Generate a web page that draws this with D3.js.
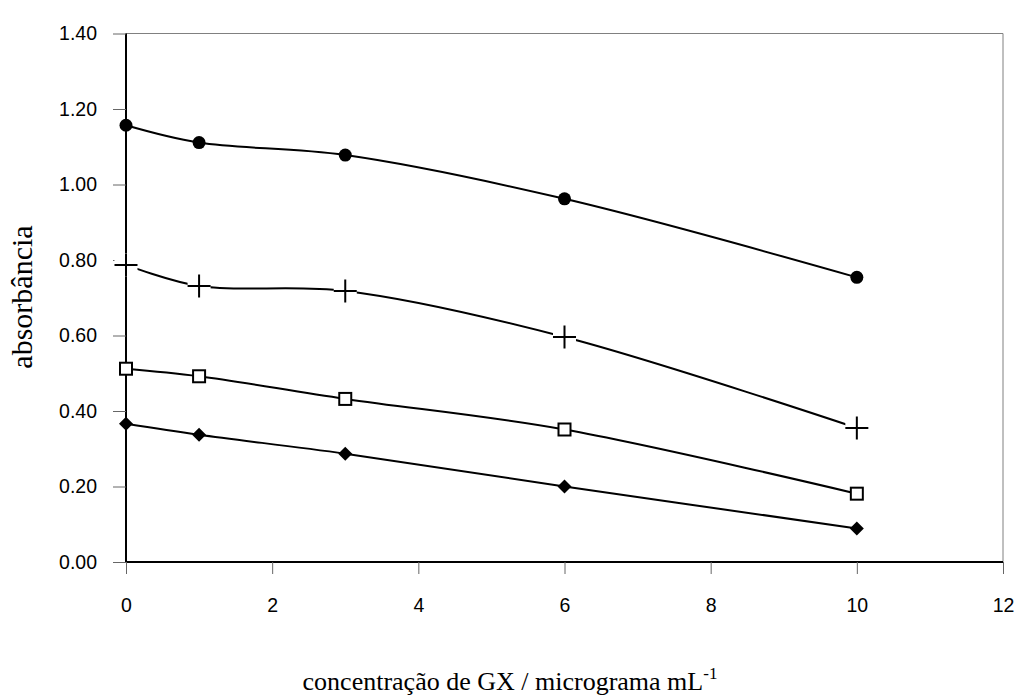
<!DOCTYPE html>
<html>
<head>
<meta charset="utf-8">
<script src="https://cdn.jsdelivr.net/npm/d3@7"></script>
<style>
  body { margin: 0; background: #fff; }
  .tick text { font-family: "Liberation Sans", Arial, sans-serif; font-size: 19.5px; fill: #000; }
  .axis-title { font-family: "Liberation Serif", "Times New Roman", serif; fill: #000; }
</style>
</head>
<body>
<div id="chart"></div>
<script>
// --- Data ---
const concentrations = [0, 1, 3, 6, 10];
const seriesCircle  = [1.157, 1.111, 1.078, 0.962, 0.754];
const seriesPlus    = [0.787, 0.731, 0.718, 0.596, 0.355];
const seriesSquare  = [0.512, 0.492, 0.432, 0.351, 0.181];
const seriesDiamond = [0.366, 0.337, 0.287, 0.200, 0.089];
const xTicks = [0, 2, 4, 6, 8, 10, 12];
const yTicks = [0, 0.2, 0.4, 0.6, 0.8, 1.0, 1.2, 1.4];

const width = 1016, height = 695;
const margin = { top: 33.5, right: 13, bottom: 133, left: 126 };

const svg = d3.select("#chart").append("svg")
    .attr("width", width)
    .attr("height", height);

const x = d3.scaleLinear().domain([0, 12]).range([margin.left, width - margin.right]);
const y = d3.scaleLinear().domain([0, 1.4]).range([height - margin.bottom, margin.top]);

// --- Plot frame (thin grey top/right) ---
svg.append("line")
    .attr("x1", x(0)).attr("x2", x(12))
    .attr("y1", y(1.4)).attr("y2", y(1.4))
    .attr("stroke", "#808080").attr("stroke-width", 1);
svg.append("line")
    .attr("x1", x(12)).attr("x2", x(12))
    .attr("y1", y(1.4)).attr("y2", y(0))
    .attr("stroke", "#808080").attr("stroke-width", 1);

// --- Axes ---
const xAxis = svg.append("g")
    .attr("transform", `translate(0,${y(0)})`)
    .call(d3.axisBottom(x).tickValues(xTicks).tickFormat(d3.format("d")).tickSize(12).tickPadding(24));
const yAxis = svg.append("g")
    .attr("transform", `translate(${x(0)},0)`)
    .call(d3.axisLeft(y).tickValues(yTicks).tickFormat(d3.format(".2f")).tickSize(13).tickPadding(16));

[xAxis, yAxis].forEach(g => {
    g.select(".domain").attr("stroke", "#000").attr("stroke-width", 2);
    g.selectAll(".tick line").attr("stroke", "#666").attr("stroke-width", 1);
});
xAxis.select(".domain").attr("d", `M${x(0)},0H${x(12)}`);
yAxis.select(".domain").attr("d", `M0,${y(0)}V${y(1.4)}`);

// --- Lines ---
const line = d3.line()
    .x((d, i) => x(concentrations[i]))
    .y(d => y(d))
    .curve(d3.curveCatmullRom.alpha(0.5));

const allSeries = [
    { values: seriesCircle, marker: "circle" },
    { values: seriesPlus, marker: "plus" },
    { values: seriesSquare, marker: "square" },
    { values: seriesDiamond, marker: "diamond" }
];

allSeries.forEach(s => {
    svg.append("path")
        .datum(s.values)
        .attr("fill", "none")
        .attr("stroke", "#000")
        .attr("stroke-width", 2)
        .attr("d", line);
});

// --- Markers ---
allSeries.forEach(s => {
    const g = svg.append("g");
    s.values.forEach((v, i) => {
        const cx = x(concentrations[i]), cy = y(v);
        if (s.marker === "circle") {
            g.append("circle").attr("cx", cx).attr("cy", cy).attr("r", 6.5).attr("fill", "#000");
        } else if (s.marker === "plus") {
            g.append("rect").attr("x", cx - 11.5).attr("y", cy - 11.5)
                .attr("width", 23).attr("height", 23).attr("fill", "#fff");
            g.append("path")
                .attr("d", `M${cx - 11.5},${cy}H${cx + 11.5}M${cx},${cy - 11.5}V${cy + 11.5}`)
                .attr("stroke", "#000").attr("stroke-width", 2);
        } else if (s.marker === "square") {
            g.append("rect").attr("x", cx - 6).attr("y", cy - 6)
                .attr("width", 12).attr("height", 12)
                .attr("fill", "#fff").attr("stroke", "#000").attr("stroke-width", 2);
        } else {
            g.append("path")
                .attr("d", `M${cx},${cy - 7}L${cx + 7},${cy}L${cx},${cy + 7}L${cx - 7},${cy}Z`)
                .attr("fill", "#000");
        }
    });
});

// --- Axis titles ---
const xTitle = svg.append("text")
    .attr("class", "axis-title")
    .attr("font-size", 26)
    .attr("x", 510)
    .attr("y", 690)
    .attr("text-anchor", "middle");
xTitle.append("tspan").text("concentração de GX / micrograma mL");
xTitle.append("tspan").attr("dy", -11).attr("font-size", 17).text("-1");

svg.append("text")
    .attr("class", "axis-title")
    .attr("font-size", 30)
    .attr("transform", `translate(32,297) rotate(-90)`)
    .attr("text-anchor", "middle")
    .text("absorbância");
</script>
</body>
</html>
